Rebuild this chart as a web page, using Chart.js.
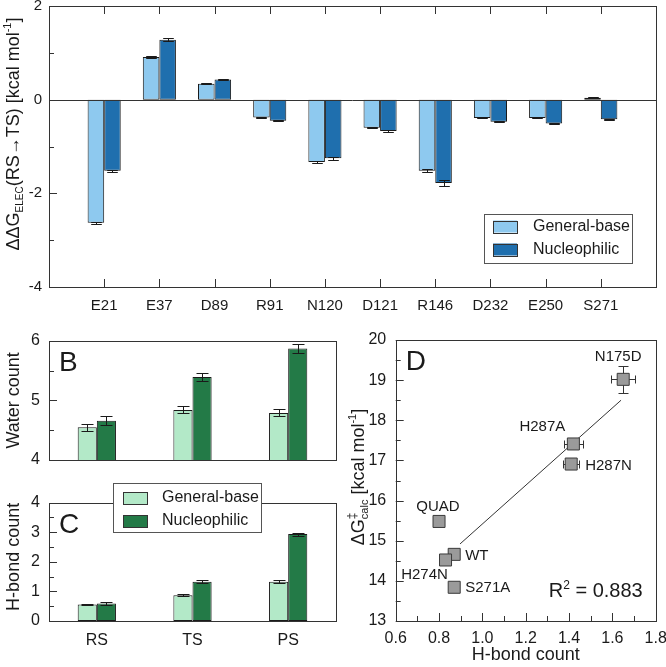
<!DOCTYPE html>
<html>
<head>
<meta charset="utf-8">
<script src="https://cdn.jsdelivr.net/npm/chart.js@4"></script>
<style>
  body { margin: 0; background: #fff; }
  #page { position: relative; width: 666px; height: 667px; overflow: hidden; }
  canvas { position: absolute; }
</style>
</head>
<body>
<div id="page">
  <canvas id="elec" width="666" height="320" style="left:0;top:0"></canvas>
  <canvas id="water" width="346" height="140" style="left:0;top:330px"></canvas>
  <canvas id="hbond" width="346" height="187" style="left:0;top:480px"></canvas>
  <canvas id="barrier" width="320" height="337" style="left:346px;top:330px"></canvas>
</div>
<script>
// panel A: electrostatic contribution per residue
const residues = ['E21', 'E37', 'D89', 'R91', 'N120', 'D121', 'R146', 'D232', 'E250', 'S271'];
const elecGeneralBase = [-2.63, 0.91, 0.34, -0.38, -1.33, -0.60, -1.52, -0.39, -0.39, 0.04];
const elecNucleophilic = [-1.52, 1.28, 0.43, -0.45, -1.25, -0.67, -1.78, -0.47, -0.51, -0.42];
const elecGeneralBaseErr = [0.02, 0.02, 0.01, 0.01, 0.02, 0.01, 0.03, 0.01, 0.01, 0.01];
const elecNucleophilicErr = [0.02, 0.03, 0.01, 0.01, 0.03, 0.02, 0.07, 0.01, 0.01, 0.01];

// panels B and C
const states = ['RS', 'TS', 'PS'];
const waterGeneralBase = [4.55, 4.84, 4.79];
const waterNucleophilic = [4.66, 5.39, 5.87];
const waterGeneralBaseErr = [0.06, 0.06, 0.06];
const waterNucleophilicErr = [0.08, 0.07, 0.08];
const hbondGeneralBase = [0.56, 0.87, 1.33];
const hbondNucleophilic = [0.59, 1.33, 2.94];
const hbondGeneralBaseErr = [0.03, 0.03, 0.04];
const hbondNucleophilicErr = [0.04, 0.04, 0.05];

// panel D
const mutants = ['N175D', 'H287A', 'H287N', 'QUAD', 'WT', 'H274N', 'S271A'];
const mutantHbond = [1.65, 1.42, 1.41, 0.80, 0.87, 0.83, 0.87];
const mutantBarrier = [19.02, 17.41, 16.91, 15.48, 14.66, 14.52, 13.84];
const mutantHbondErr = [0.055, 0.044, 0.037, 0.02, 0.02, 0.02, 0.02];
const mutantBarrierErr = [0.34, 0.08, 0.08, 0.05, 0.1, 0.08, 0.08];
const fitHbond = [0.897, 1.64];
const fitBarrier = [14.92, 18.5];
const rSquared = 0.883;

// label offsets (px) for the mutant names: dx, dy, alignment
const mutantLabelPos = [[-5, -22, 'center'], [-31, -17, 'center'], [14, 2, 'left'], [-1, -15, 'center'],
                        [11, 1, 'left'], [-21, 15, 'center'], [11, 1, 'left']];

const FONT = '"Liberation Sans", Arial, Helvetica, sans-serif';
const INK = '#1a1a1a';
const LIGHT_BLUE = '#8ec9ef', DARK_BLUE = '#1f6fae';
const LIGHT_GREEN = '#b3e9c8', DARK_GREEN = '#237a47';

Chart.defaults.font.family = FONT;
Chart.defaults.color = INK;
Chart.defaults.animation = false;
Chart.defaults.plugins.legend.display = false;
Chart.defaults.plugins.tooltip.enabled = false;

const px = v => Math.round(v) + 0.5;

function line(ctx, x1, y1, x2, y2) {
  ctx.beginPath();
  ctx.moveTo(x1, y1);
  ctx.lineTo(x2, y2);
  ctx.stroke();
}

function fixAxis(scale, key, size) {
  scale[key] = size;
  scale.paddingTop = scale.paddingBottom = scale.paddingLeft = scale.paddingRight = 0;
}

function inwardTicks(ctx, scale, area, major, minor, side) {
  for (let k = Math.ceil(scale.min / minor - 1e-9); k * minor <= scale.max + 1e-9; k++) {
    const v = k * minor;
    const isMajor = Math.abs(v / major - Math.round(v / major)) < 1e-6;
    const len = isMajor ? 8 : 5;
    const p = px(scale.getPixelForValue(v));
    if (side === 'left') line(ctx, area.left, p, area.left + len, p);
    if (side === 'bottom') line(ctx, p, area.bottom, p, area.bottom - len);
    if (side === 'top') line(ctx, p, area.top, p, area.top + len);
  }
}

function frame(ctx, a) {
  ctx.strokeRect(px(a.left), px(a.top), Math.round(a.right) - Math.round(a.left), Math.round(a.bottom) - Math.round(a.top));
}

// parts: [text, size, dy, advance]
function richText(ctx, parts, x, y, align, rotate) {
  ctx.save();
  ctx.translate(x, y);
  if (rotate) ctx.rotate(-Math.PI / 2);
  let w = 0;
  for (const [t, s, , adv] of parts) {
    ctx.font = `${s}px ${FONT}`;
    if (adv !== false) w += ctx.measureText(t).width;
  }
  let cx = align === 'right' ? -w : align === 'left' ? 0 : -w / 2;
  ctx.fillStyle = INK;
  ctx.textAlign = 'left';
  ctx.textBaseline = 'alphabetic';
  for (const [t, s, dy, adv] of parts) {
    ctx.font = `${s}px ${FONT}`;
    ctx.fillText(t, cx, dy);
    if (adv !== false) cx += ctx.measureText(t).width;
  }
  ctx.restore();
}

function legendBox(ctx, box, items) {
  ctx.save();
  ctx.fillStyle = '#fff';
  ctx.fillRect(box.x, box.y, box.w, box.h);
  ctx.strokeStyle = '#555';
  ctx.lineWidth = 1;
  ctx.strokeRect(px(box.x), px(box.y), box.w, box.h);
  ctx.font = `16px ${FONT}`;
  ctx.textBaseline = 'middle';
  ctx.textAlign = 'left';
  items.forEach((it, i) => {
    const cy = box.y + box.first + i * box.gap;
    ctx.fillStyle = it.color;
    ctx.fillRect(box.x + box.sx, cy - 6, 24, 12);
    ctx.strokeStyle = '#333';
    ctx.strokeRect(px(box.x + box.sx), px(cy - 6), 24, 12);
    ctx.fillStyle = INK;
    ctx.fillText(it.label, box.x + box.tx, cy);
  });
  ctx.restore();
}

function panelLetter(ctx, a, letter) {
  ctx.save();
  ctx.fillStyle = INK;
  ctx.font = `28px ${FONT}`;
  ctx.textBaseline = 'alphabetic';
  ctx.fillText(letter, a.left + 10, a.top + 30);
  ctx.restore();
}

const barErrors = {
  id: 'barErrors',
  afterDatasetsDraw(chart) {
    const { ctx } = chart;
    const ys = chart.scales.y;
    ctx.save();
    ctx.strokeStyle = INK;
    ctx.lineWidth = 1;
    chart.data.datasets.forEach((ds, di) => {
      if (!ds.errors) return;
      chart.getDatasetMeta(di).data.forEach((bar, i) => {
        const d = ds.data[i];
        const v = typeof d === 'object' ? d.y : d;
        const e = ds.errors[i];
        const y1 = px(ys.getPixelForValue(v - e)), y2 = px(ys.getPixelForValue(v + e));
        const x = px(bar.x);
        const cap = Math.min(6, bar.width * 0.32);
        line(ctx, x, y1, x, y2);
        line(ctx, x - cap, y1, x + cap, y1);
        line(ctx, x - cap, y2, x + cap, y2);
      });
    });
    ctx.restore();
  }
};

function barDataset(label, values, errors, color) {
  return { label, data: values, errors, backgroundColor: color, borderColor: INK, borderWidth: 1, borderSkipped: false };
}

const hiddenGrid = { display: false, drawTicks: false };

// ---------- panel A ----------
new Chart(document.getElementById('elec'), {
  type: 'bar',
  data: {
    datasets: [
      barDataset('General-base', elecGeneralBase.map((y, i) => ({ x: i + 1, y })), elecGeneralBaseErr, LIGHT_BLUE),
      barDataset('Nucleophilic', elecNucleophilic.map((y, i) => ({ x: i + 1, y })), elecNucleophilicErr, DARK_BLUE)
    ]
  },
  options: {
    responsive: false,
    layout: { padding: { top: 6, right: 10, left: 0, bottom: 0 } },
    datasets: { bar: { categoryPercentage: 0.6, barPercentage: 1 } },
    scales: {
      x: {
        type: 'linear', min: 0, max: 11, offset: false,
        grid: hiddenGrid, border: { display: false },
        ticks: { stepSize: 1, autoSkip: false, maxRotation: 0, padding: 10, font: { size: 15 },
                 callback: v => residues[v - 1] ?? '' },
        afterFit: s => fixAxis(s, 'height', 33)
      },
      y: {
        min: -4, max: 2,
        grid: hiddenGrid, border: { display: false },
        ticks: { stepSize: 2, padding: 7, font: { size: 15 } },
        afterFit: s => fixAxis(s, 'width', 49)
      }
    }
  },
  plugins: [barErrors, {
    id: 'decoA',
    afterDraw(chart) {
      const { ctx, chartArea: a, scales } = chart;
      ctx.save();
      ctx.strokeStyle = '#333';
      ctx.lineWidth = 1;
      const y0 = px(scales.y.getPixelForValue(0));
      line(ctx, a.left, y0, a.right, y0);
      inwardTicks(ctx, scales.y, a, 2, 1, 'left');
      residues.forEach((r, i) => {
        const x = px(scales.x.getPixelForValue(i + 1));
        line(ctx, x, a.top, x, a.top + 8);
        line(ctx, x, a.bottom, x, a.bottom - 8);
      });
      frame(ctx, a);
      ctx.restore();
      richText(ctx, [['ΔΔG', 18, 0], ['ELEC', 10, 4], ['(RS→TS) [kcal mol', 18, 0], ['-1', 11, -8], [']', 18, 0]],
               18.5, 134, 'center', true);
      legendBox(ctx, { x: 484, y: 214, w: 148, h: 49, sx: 9, tx: 49, first: 12.5, gap: 23 },
                [{ label: 'General-base', color: LIGHT_BLUE }, { label: 'Nucleophilic', color: DARK_BLUE }]);
    }
  }]
});

// ---------- panels B and C ----------
function statePanel(id, gb, nu, gbErr, nuErr, yMin, yMax, opts) {
  return new Chart(document.getElementById(id), {
    type: 'bar',
    data: {
      labels: states,
      datasets: [barDataset('General-base', gb, gbErr, LIGHT_GREEN), barDataset('Nucleophilic', nu, nuErr, DARK_GREEN)]
    },
    options: {
      responsive: false,
      layout: { padding: opts.padding },
      datasets: { bar: { categoryPercentage: 0.4, barPercentage: 1 } },
      scales: {
        x: {
          display: opts.showX,
          grid: hiddenGrid, border: { display: false },
          ticks: { padding: 10.4, font: { size: 16 }, maxRotation: 0 },
          afterFit: s => fixAxis(s, 'height', opts.showX ? 46 : 0)
        },
        y: {
          min: yMin, max: yMax,
          grid: hiddenGrid, border: { display: false },
          ticks: { stepSize: 1, padding: 9, font: { size: 16 } },
          afterFit: s => fixAxis(s, 'width', 49)
        }
      }
    },
    plugins: [barErrors, {
      id: 'deco' + id,
      afterDraw(chart) {
        const { ctx, chartArea: a, scales } = chart;
        ctx.save();
        ctx.strokeStyle = '#333';
        ctx.lineWidth = 1;
        inwardTicks(ctx, scales.y, a, 1, 0.5, 'left');
        frame(ctx, a);
        ctx.restore();
        panelLetter(ctx, a, opts.letter);
        richText(ctx, [[opts.title, 18, 0]], 18.5, (a.top + a.bottom) / 2 - opts.titleShift, 'center', true);
        if (opts.legend) {
          legendBox(ctx, { x: 113, y: 3, w: 148, h: 49, sx: 10, tx: 49, first: 15, gap: 23 },
                    [{ label: 'General-base', color: LIGHT_GREEN }, { label: 'Nucleophilic', color: DARK_GREEN }]);
        }
      }
    }]
  });
}

statePanel('water', waterGeneralBase, waterNucleophilic, waterGeneralBaseErr, waterNucleophilicErr, 4, 6,
  { padding: { top: 10.7, right: 10, bottom: 10, left: 0 }, showX: false, letter: 'B', title: 'Water count', titleShift: 0 });
statePanel('hbond', hbondGeneralBase, hbondNucleophilic, hbondGeneralBaseErr, hbondNucleophilicErr, 0, 4,
  { padding: { top: 22.7, right: 10, bottom: 0, left: 0 }, showX: true, letter: 'C', title: 'H-bond count', titleShift: 5, legend: true });

// ---------- panel D ----------
new Chart(document.getElementById('barrier'), {
  type: 'scatter',
  data: {
    datasets: [
      {
        label: 'mutants',
        data: mutantHbond.map((x, i) => ({ x, y: mutantBarrier[i] })),
        pointStyle: 'rect', pointRadius: 8.5,
        backgroundColor: '#9a9a9a', borderColor: '#3a3a3a', borderWidth: 1
      },
      {
        type: 'line', label: 'fit',
        data: fitHbond.map((x, i) => ({ x, y: fitBarrier[i] })),
        borderColor: '#333', borderWidth: 1, pointRadius: 0, fill: false
      }
    ]
  },
  options: {
    responsive: false,
    layout: { padding: { top: 10, right: 10.3, bottom: 0, left: 0 } },
    scales: {
      x: {
        type: 'linear', min: 0.6, max: 1.8,
        grid: hiddenGrid, border: { display: false },
        ticks: { stepSize: 0.2, padding: 8.4, font: { size: 16 }, maxRotation: 0, callback: v => v.toFixed(1) },
        afterFit: s => fixAxis(s, 'height', 46)
      },
      y: {
        min: 13, max: 20,
        grid: hiddenGrid, border: { display: false },
        ticks: { stepSize: 1, padding: 9.5, font: { size: 16 } },
        afterFit: s => fixAxis(s, 'width', 49.7)
      }
    }
  },
  plugins: [{
    id: 'decoD',
    beforeDatasetsDraw(chart) {
      const { ctx, scales: { x: xs, y: ys } } = chart;
      ctx.save();
      ctx.strokeStyle = '#333';
      ctx.lineWidth = 1;
      mutantHbond.forEach((hb, i) => {
        const x = px(xs.getPixelForValue(hb)), y = px(ys.getPixelForValue(mutantBarrier[i]));
        const xl = px(xs.getPixelForValue(hb - mutantHbondErr[i])), xr = px(xs.getPixelForValue(hb + mutantHbondErr[i]));
        const yt = px(ys.getPixelForValue(mutantBarrier[i] + mutantBarrierErr[i]));
        const yb = px(ys.getPixelForValue(mutantBarrier[i] - mutantBarrierErr[i]));
        line(ctx, xl, y, xr, y);
        line(ctx, xl, y - 4, xl, y + 4);
        line(ctx, xr, y - 4, xr, y + 4);
        line(ctx, x, yt, x, yb);
        line(ctx, x - 5, yt, x + 5, yt);
        line(ctx, x - 5, yb, x + 5, yb);
      });
      ctx.restore();
    },
    afterDraw(chart) {
      const { ctx, chartArea: a, scales } = chart;
      ctx.save();
      ctx.strokeStyle = '#333';
      ctx.lineWidth = 1;
      inwardTicks(ctx, scales.y, a, 1, 0.5, 'left');
      inwardTicks(ctx, scales.x, a, 0.2, 0.1, 'bottom');
      frame(ctx, a);
      ctx.fillStyle = INK;
      ctx.font = `15px ${FONT}`;
      ctx.textBaseline = 'middle';
      mutants.forEach((m, i) => {
        const [dx, dy, align] = mutantLabelPos[i];
        ctx.textAlign = align;
        ctx.fillText(m, scales.x.getPixelForValue(mutantHbond[i]) + dx, scales.y.getPixelForValue(mutantBarrier[i]) + dy);
      });
      ctx.textAlign = 'center';
      ctx.font = `18px ${FONT}`;
      ctx.fillText('H-bond count', (a.left + a.right) / 2, 325);
      ctx.restore();
      panelLetter(ctx, a, 'D');
      richText(ctx, [['R', 20, 0], ['2', 12, -8], [' = ' + rSquared.toFixed(3), 20, 0]], a.right - 13, a.bottom - 24.3, 'right', false);
      richText(ctx, [['ΔG', 18, 0], ['‡', 12, -8, false], ['calc', 11, 4], [' [kcal mol', 18, 0], ['-1', 11, -8], [']', 18, 0]],
               17.5, 147, 'center', true);
    }
  }]
});
</script>
</body>
</html>
